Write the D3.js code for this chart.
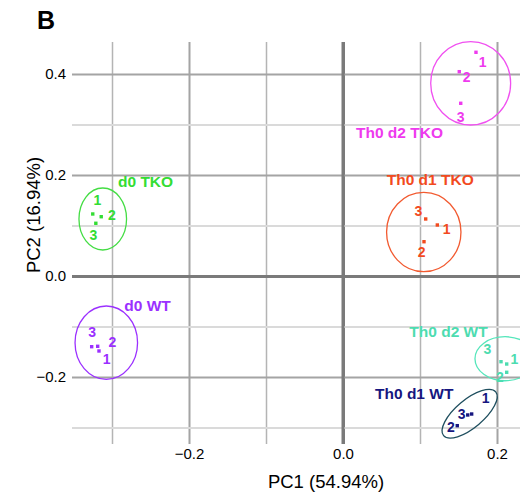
<!DOCTYPE html>
<html>
<head>
<meta charset="utf-8">
<script src="https://cdn.jsdelivr.net/npm/d3@7/dist/d3.min.js"></script>
<style>
  html, body { margin: 0; padding: 0; background: #fff; }
  svg { display: block; font-family: "Liberation Sans", Arial, sans-serif; }
</style>
</head>
<body>
<svg id="chart" width="520" height="496"></svg>
<script>
// ---------------- DATA ----------------
const groups = ["d0 TKO", "d0 WT", "Th0 d2 TKO", "Th0 d1 TKO", "Th0 d2 WT", "Th0 d1 WT"];
const replicates = ["1", "2", "3"];
const pc1 = [
  [-0.325, -0.314, -0.321],
  [-0.3169, -0.3186, -0.3264],
  [0.1727, 0.151, 0.1529],
  [0.1225, 0.1052, 0.1074],
  [0.2126, 0.2126, 0.2052],
  [0.1671, 0.1484, 0.162]
];
const pc2 = [
  [0.1228, 0.1174, 0.1044],
  [-0.1485, -0.1392, -0.14],
  [0.443, 0.4046, 0.342],
  [0.101, 0.0679, 0.1129],
  [-0.1743, -0.1907, -0.1697],
  [-0.2733, -0.2964, -0.2752]
];
// confidence ellipses (data units)
const ellCx = [-0.312, -0.3074, 0.1658, 0.1049, 0.2104, 0.1645];
const ellCy = [0.1129, -0.1321, 0.3816, 0.0871, -0.1638, -0.2727];
const ellRx = [0.0309, 0.0406, 0.0519, 0.0483, 0.039, 0.0442];
const ellRy = [0.0614, 0.0727, 0.0826, 0.0786, 0.0436, 0.0277];
const ellAngle = [0, 0, 0, 0, 0, -40];
// group label anchors (data units)
const groupLabelX = [-0.2922, -0.284, 0.0169, 0.0568, 0.0861, 0.0416];
const groupLabelY = [0.1768, -0.0687, 0.2727, 0.1802, -0.1202, -0.2442];
const xTicks = [-0.3, -0.2, -0.1, 0.0, 0.1, 0.2];
const yTicks = [-0.3, -0.2, -0.1, 0.0, 0.1, 0.2, 0.3, 0.4];
const xTickLabels = ["\u22120.2", "0.0", "0.2"];
const yTickLabels = ["\u22120.2", "0.0", "0.2", "0.4"];
const xTitle = "PC1 (54.94%)";
const yTitle = "PC2 (16.94%)";
const panelTag = "B";

// ---------------- STYLE / LAYOUT ----------------
const textColors = ["#33dd33", "#9b30ff", "#ee3aee", "#f24a1e", "#4ddcb0", "#16167f"];
const ellColors  = ["#44dd44", "#9b30ff", "#f050f0", "#f25a30", "#55e6bb", "#1f4f5f"];
const labelDx = [[4.6, 10.7, -2.4], [7.7, 14.6, 0.6], [6.7, 7.4, 0], [9.4, -2.3, -7.4], [7.6, -6.7, -13.7], [14, -6.3, -6]];
const labelDy = [[-14, -1.7, 11.7], [8, -4.3, -15], [9.4, 5.6, 13.4], [4.3, 10, -8.3], [-4.7, 4.4, -12.7], [-15.7, 1.6, -1]];

const svg = d3.select("#chart");
const x = d3.scaleLinear().domain([-0.3, 0.2]).range([112, 497]);
const y = d3.scaleLinear().domain([-0.3, 0.4]).range([427.5, 74]);
const gridLeft = 72, gridRight = 520, gridTop = 42, gridBottom = 444;

const isZero = v => Math.abs(v) < 1e-9;
const isMajor = v => Math.abs(Math.round(v * 10)) % 2 === 0;

// grid via axes
const gx = svg.append("g").attr("transform", `translate(0,${gridBottom})`)
  .call(d3.axisBottom(x).tickValues(xTicks).tickSizeInner(-(gridBottom - gridTop)).tickSizeOuter(0).tickFormat(""));
gx.select(".domain").remove();
gx.selectAll(".tick line")
  .attr("stroke", d => isZero(d) ? "#7a7a7a" : (isMajor(d) ? "#a4a4a4" : "#b4b4b4"))
  .attr("stroke-width", d => isZero(d) ? 3 : (isMajor(d) ? 2 : 1.5));

const gy = svg.append("g").attr("transform", `translate(${gridLeft},0)`)
  .call(d3.axisLeft(y).tickValues(yTicks).tickSizeInner(-(gridRight - gridLeft)).tickSizeOuter(0).tickFormat(""));
gy.select(".domain").remove();
gy.selectAll(".tick line")
  .attr("stroke", d => isZero(d) ? "#7a7a7a" : (isMajor(d) ? "#a4a4a4" : "#dadada"))
  .attr("stroke-width", d => isZero(d) ? 3 : 2);

// redraw the zero vertical above horizontals
svg.append("line").attr("x1", x(0)).attr("x2", x(0)).attr("y1", gridTop).attr("y2", gridBottom)
  .attr("stroke", "#7a7a7a").attr("stroke-width", 3);

// tick labels via axes
const xl = svg.append("g").attr("transform", `translate(0,${gridBottom})`)
  .call(d3.axisBottom(x).tickValues([-0.2, 0, 0.2]).tickSize(0).tickPadding(4)
    .tickFormat((d, i) => xTickLabels[i]));
xl.select(".domain").remove();
xl.selectAll("text").attr("font-size", 15).attr("fill", "#000").attr("font-family", "Liberation Sans, Arial, sans-serif");

const yl = svg.append("g").attr("transform", `translate(${gridLeft},0)`)
  .call(d3.axisLeft(y).tickValues([-0.2, 0, 0.2, 0.4]).tickSize(0).tickPadding(6)
    .tickFormat((d, i) => yTickLabels[i]));
yl.select(".domain").remove();
yl.selectAll("text").attr("font-size", 15).attr("fill", "#000").attr("font-family", "Liberation Sans, Arial, sans-serif");

// axis titles
svg.append("text").attr("x", 326).attr("y", 488).attr("text-anchor", "middle")
  .attr("font-size", 18.5).text(xTitle);
svg.append("text").attr("transform", "translate(40,215) rotate(-90)").attr("text-anchor", "middle")
  .attr("font-size", 18.5).text(yTitle);
svg.append("text").attr("x", 37).attr("y", 29).attr("font-size", 25).attr("font-weight", "bold").text(panelTag);

// ellipses
groups.forEach((g, gi) => {
  const cx = x(ellCx[gi]), cy = y(ellCy[gi]);
  const rx = x(ellRx[gi]) - x(0);
  const ry = y(0) - y(ellRy[gi]);
  svg.append("ellipse")
    .attr("transform", `translate(${cx},${cy}) rotate(${ellAngle[gi]})`)
    .attr("rx", rx).attr("ry", ry)
    .attr("fill", "none").attr("stroke", ellColors[gi]).attr("stroke-width", 1.3);
});

// points and replicate labels
groups.forEach((g, gi) => {
  replicates.forEach((r, ri) => {
    const px = x(pc1[gi][ri]), py = y(pc2[gi][ri]);
    svg.append("rect").attr("x", px - 1.7).attr("y", py - 1.7).attr("width", 3.4).attr("height", 3.4)
      .attr("fill", textColors[gi]);
    svg.append("text").attr("x", px + labelDx[gi][ri]).attr("y", py + labelDy[gi][ri])
      .attr("text-anchor", "middle").attr("dominant-baseline", "central")
      .attr("font-size", 14).attr("font-weight", "bold").attr("fill", textColors[gi]).text(r);
  });
  svg.append("text").attr("x", x(groupLabelX[gi])).attr("y", y(groupLabelY[gi]))
    .attr("font-size", 15.5).attr("font-weight", "bold").attr("fill", textColors[gi]).text(g);
});
</script>
</body>
</html>
